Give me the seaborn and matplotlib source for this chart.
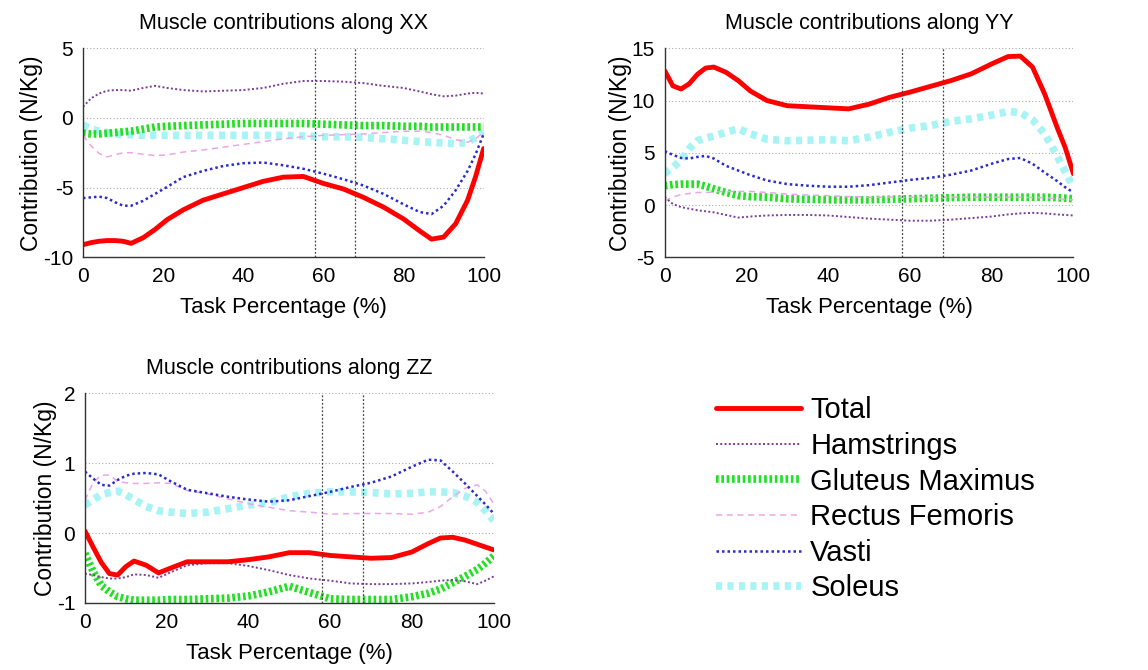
import matplotlib
matplotlib.use("Agg")
import matplotlib.pyplot as plt
import seaborn as sns

# Task percentage grid used for every series
pct = [0, 2, 4, 6, 8, 10, 12, 15, 18, 21, 25, 30, 35, 40, 45, 50, 55, 60, 65, 70, 75, 80, 84, 87, 90, 93, 96, 98, 100]

# Along XX
xx_total = [-9.1, -8.95, -8.85, -8.8, -8.8, -8.85, -9.0, -8.6, -8.0, -7.3, -6.6, -5.9, -5.45, -5.0, -4.55, -4.25, -4.2, -4.7, -5.1, -5.7, -6.4, -7.25, -8.1, -8.7, -8.55, -7.6, -5.9, -4.2, -2.2]
xx_ham = [0.8, 1.4, 1.75, 1.95, 2.0, 2.0, 1.95, 2.15, 2.3, 2.15, 2.0, 1.9, 1.95, 2.0, 2.15, 2.45, 2.65, 2.65, 2.6, 2.5, 2.3, 2.15, 1.9, 1.7, 1.55, 1.6, 1.75, 1.8, 1.75]
xx_glut = [-1.1, -1.15, -1.15, -1.1, -1.05, -1.0, -0.95, -0.8, -0.65, -0.6, -0.55, -0.5, -0.45, -0.4, -0.4, -0.4, -0.4, -0.45, -0.5, -0.55, -0.55, -0.6, -0.6, -0.65, -0.65, -0.65, -0.65, -0.65, -0.65]
xx_rf = [-1.25, -2.0, -2.55, -2.8, -2.65, -2.5, -2.5, -2.6, -2.7, -2.65, -2.45, -2.3, -2.1, -1.9, -1.7, -1.5, -1.35, -1.25, -1.2, -1.15, -1.05, -0.95, -0.95, -1.05, -1.25, -1.55, -1.75, -1.5, -1.0]
xx_vasti = [-5.75, -5.7, -5.65, -5.75, -6.05, -6.3, -6.3, -5.95, -5.45, -4.95, -4.25, -3.8, -3.45, -3.25, -3.2, -3.4, -3.65, -4.0, -4.4, -4.85, -5.45, -6.2, -6.75, -6.9, -6.3, -5.2, -3.8, -2.6, -1.15]
xx_sol = [-0.5, -0.8, -0.95, -1.05, -1.15, -1.2, -1.2, -1.25, -1.25, -1.25, -1.25, -1.25, -1.25, -1.25, -1.25, -1.25, -1.3, -1.35, -1.35, -1.4, -1.5, -1.6, -1.7, -1.75, -1.8, -1.85, -1.75, -1.4, -1.0]

# Along YY
yy_total = [12.85, 11.4, 11.1, 11.6, 12.5, 13.1, 13.2, 12.7, 11.9, 10.9, 10.0, 9.5, 9.4, 9.3, 9.2, 9.65, 10.3, 10.8, 11.35, 11.9, 12.55, 13.5, 14.2, 14.25, 13.2, 10.6, 7.45, 5.5, 3.0]
yy_ham = [0.75, 0.1, -0.2, -0.35, -0.5, -0.6, -0.7, -0.95, -1.2, -1.1, -1.0, -0.95, -0.95, -1.0, -1.15, -1.3, -1.4, -1.5, -1.5, -1.4, -1.25, -1.1, -0.9, -0.8, -0.75, -0.8, -0.9, -0.95, -1.0]
yy_glut = [1.85, 1.95, 2.0, 2.0, 2.0, 1.8, 1.55, 1.2, 0.9, 0.8, 0.75, 0.6, 0.55, 0.5, 0.5, 0.5, 0.55, 0.6, 0.65, 0.7, 0.75, 0.75, 0.75, 0.75, 0.75, 0.75, 0.7, 0.65, 0.6]
yy_rf = [0.4, 0.75, 1.0, 1.1, 1.2, 1.2, 1.25, 1.3, 1.3, 1.3, 1.2, 1.05, 0.95, 0.9, 0.8, 0.75, 0.75, 0.75, 0.75, 0.75, 0.75, 0.75, 0.75, 0.75, 0.72, 0.7, 0.6, 0.55, 0.5]
yy_vasti = [5.15, 4.8, 4.5, 4.45, 4.6, 4.7, 4.45, 3.75, 3.3, 2.85, 2.35, 2.0, 1.85, 1.75, 1.75, 1.9, 2.15, 2.4, 2.6, 2.9, 3.3, 3.95, 4.4, 4.5, 3.95, 3.1, 2.3, 1.7, 1.2]
yy_sol = [3.0, 3.6, 4.3, 5.4, 6.15, 6.4, 6.6, 6.95, 7.3, 6.8, 6.3, 6.15, 6.2, 6.25, 6.15, 6.5, 6.95, 7.35, 7.6, 8.0, 8.25, 8.6, 8.95, 8.85, 8.15, 6.8, 4.7, 3.2, 1.7]

# Along ZZ
zz_total = [0.03, -0.2, -0.42, -0.58, -0.6, -0.48, -0.4, -0.46, -0.57, -0.5, -0.41, -0.41, -0.41, -0.38, -0.34, -0.28, -0.28, -0.32, -0.34, -0.36, -0.35, -0.27, -0.15, -0.07, -0.06, -0.1, -0.16, -0.2, -0.24]
zz_ham = [-0.58, -0.6, -0.63, -0.65, -0.65, -0.63, -0.59, -0.6, -0.64, -0.56, -0.46, -0.43, -0.43, -0.47, -0.53, -0.6, -0.65, -0.68, -0.72, -0.73, -0.73, -0.72, -0.7, -0.68, -0.67, -0.69, -0.73, -0.68, -0.62]
zz_glut = [-0.29, -0.55, -0.75, -0.84, -0.91, -0.94, -0.96, -0.96, -0.96, -0.95, -0.95, -0.94, -0.93, -0.9, -0.84, -0.76, -0.85, -0.94, -0.95, -0.95, -0.95, -0.91, -0.86, -0.8, -0.71, -0.62, -0.52, -0.43, -0.33]
zz_rf = [0.47, 0.72, 0.83, 0.83, 0.74, 0.72, 0.71, 0.71, 0.72, 0.71, 0.61, 0.56, 0.49, 0.42, 0.37, 0.32, 0.3, 0.27, 0.28, 0.28, 0.28, 0.27, 0.3, 0.38, 0.52, 0.64, 0.69, 0.6, 0.42]
zz_vasti = [0.88, 0.78, 0.69, 0.68, 0.76, 0.82, 0.85, 0.86, 0.84, 0.74, 0.62, 0.57, 0.52, 0.48, 0.45, 0.47, 0.53, 0.59, 0.66, 0.72, 0.81, 0.95, 1.05, 1.04, 0.88, 0.71, 0.53, 0.41, 0.28]
zz_sol = [0.4, 0.48, 0.55, 0.58, 0.6, 0.55, 0.48, 0.38, 0.32, 0.3, 0.28, 0.3, 0.35, 0.4, 0.43, 0.52, 0.57, 0.59, 0.59, 0.58, 0.56, 0.57, 0.59, 0.59, 0.58, 0.53, 0.44, 0.32, 0.18]

muscles = ['Total', 'Hamstrings', 'Gluteus Maximus', 'Rectus Femoris', 'Vasti', 'Soleus']
phase_marks = [58, 68]

# line style per muscle (colour, width, linestyle)
styles = {
    'Soleus': ('#a8f4f4', 5.5, (0, (0.8, 0.7))),
    'Gluteus Maximus': ('#22e022', 5.5, (0, (0.35, 0.35))),
    'Rectus Femoris': ('#eba6eb', 1.1, (0, (4, 3))),
    'Hamstrings': ('#7a3c9a', 1.4, (0, (1, 1.2))),
    'Vasti': ('#2a2ad0', 1.8, (0, (1, 1.2))),
    'Total': ('#ff0000', 3.5, '-'),
}
draw_order = ['Soleus', 'Gluteus Maximus', 'Rectus Femoris', 'Hamstrings', 'Vasti', 'Total']

sns.set_style('white')
plt.rcParams['font.family'] = ['Liberation Sans', 'DejaVu Sans']
plt.rcParams['axes.unicode_minus'] = False
plt.rcParams['text.color'] = 'black'
plt.rcParams['axes.labelcolor'] = 'black'
plt.rcParams['xtick.color'] = 'black'
plt.rcParams['ytick.color'] = 'black'

fig = plt.figure(figsize=(11.48, 6.70), dpi=100)

panels = [
    ('XX', [0.0723, 0.616, 0.349, 0.312], (-10, 5), [-10, -5, 0, 5],
     [xx_total, xx_ham, xx_glut, xx_rf, xx_vasti, xx_sol]),
    ('YY', [0.579, 0.616, 0.356, 0.312], (-5, 15), [-5, 0, 5, 10, 15],
     [yy_total, yy_ham, yy_glut, yy_rf, yy_vasti, yy_sol]),
    ('ZZ', [0.074, 0.100, 0.356, 0.313], (-1, 2), [-1, 0, 1, 2],
     [zz_total, zz_ham, zz_glut, zz_rf, zz_vasti, zz_sol]),
]

handles = {}
for axis_name, pos, ylim, yticks, series in panels:
    ax = fig.add_axes(pos)
    values = dict(zip(muscles, series))
    for tick in yticks:
        ax.axhline(tick, color='#aaaaaa', lw=0.8, ls=(0, (1, 2)), zorder=0)
    for m in draw_order:
        color, lw, ls = styles[m]
        sns.lineplot(x=pct, y=values[m], ax=ax, color=color, linewidth=lw,
                     linestyle=ls, label=m, legend=False)
        handles[m] = ax.lines[-1]
    for xv in phase_marks:
        ax.axvline(xv, color='#444444', lw=0.9, ls=(0, (1.5, 1.5)), zorder=5)
    ax.set_xlim(0, 100)
    ax.set_ylim(*ylim)
    ax.set_xticks([0, 20, 40, 60, 80, 100])
    ax.set_yticks(yticks)
    ax.tick_params(direction='in', length=4, labelsize=15, color='#333333', pad=7)
    for side in ['top', 'right']:
        ax.spines[side].set_visible(False)
    for side in ['left', 'bottom']:
        ax.spines[side].set_color('#333333')
        ax.spines[side].set_linewidth(1.0)
    ax.set_title('Muscle contributions along ' + axis_name, fontsize=15.5, pad=14)
    ax.set_xlabel('Task Percentage (%)', fontsize=16, labelpad=8)
    ax.set_ylabel('Contribution (N/Kg)', fontsize=16.5, labelpad=0)

fig.legend([handles[m] for m in muscles], muscles, loc='upper left',
           bbox_to_anchor=(0.611, 0.43), frameon=False, fontsize=21,
           handlelength=2.9, handletextpad=0.33, labelspacing=0.26, borderpad=0)

fig.savefig('out.png', dpi=100)
